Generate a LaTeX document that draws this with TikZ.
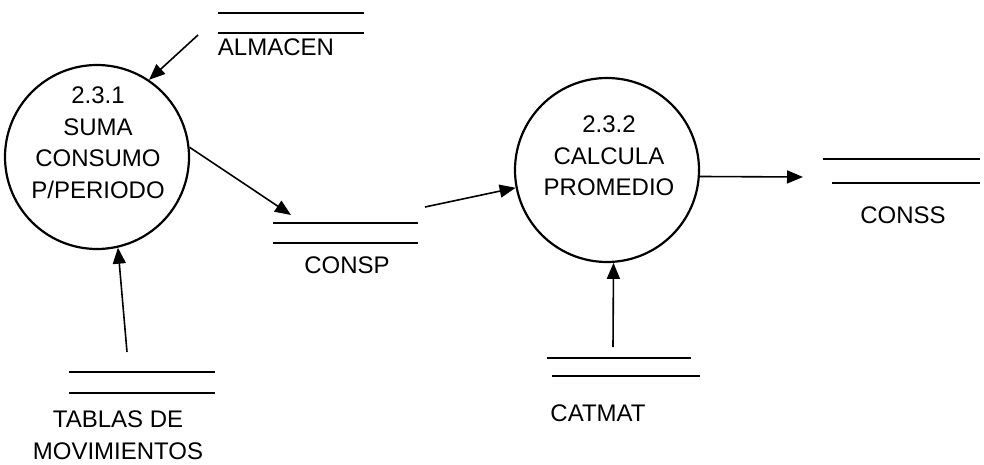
\documentclass[tikz,border=0pt]{standalone}
\usepackage{fontspec}
\setmainfont{Liberation Sans}
\usetikzlibrary{arrows.meta}
\begin{document}
\begin{tikzpicture}[x=1pt,y=-1pt,
  proc/.style={draw,circle,line width=2.2pt,minimum size=184pt,inner sep=0pt},
  lbl/.style={inner sep=0pt,font=\fontsize{24}{31.5}\selectfont,align=center},
  storeline/.style={line width=2.3pt},
  flow/.style={line width=1.6pt,-{Triangle[length=16pt,width=13pt]}}]
\useasboundingbox (0,0) rectangle (984,465);
% processes
\node[proc] (p1) at (97,157) {};
\node[lbl] (p1t) at (98,142.5) {2.3.1\\SUMA\\CONSUMO\\P/PERIODO};
\node[proc] (p2) at (607,170) {};
\node[lbl] (p2t) at (609,156) {2.3.2\\CALCULA\\PROMEDIO};
% stores
\draw[storeline] (218,13) -- (364,13) (218,33) -- (364,33);
\node[lbl] (almacen) at (276,47) {ALMACEN};
\draw[storeline] (273,223) -- (418,223) (273,243) -- (418,243);
\node[lbl] (consp) at (347,265) {CONSP};
\draw[storeline] (823,159) -- (980,159) (832,183) -- (980,183);
\node[lbl] (conss) at (903,215) {CONSS};
\draw[storeline] (547,358) -- (691,358) (552,376) -- (700,376);
\node[lbl] (catmat) at (598,413) {CATMAT};
\draw[storeline] (69,372) -- (215,372) (69,393) -- (215,393);
\node[lbl] (tablas) at (118,435) {TABLAS DE\\MOVIMIENTOS};
% connector free ends
\coordinate (aAlm) at (198,35);
\coordinate (aConspIn) at (291,215);
\coordinate (aConspOut) at (425,207);
\coordinate (aConss) at (803,177);
\coordinate (aCat) at (613,347);
\coordinate (aTab) at (127,352);
% flows
\draw[flow] (aAlm) -- (p1.56);
\draw[flow] (p1.6) -- (aConspIn);
\draw[flow] (aConspOut) -- (p2.191);
\draw[flow] (p2.-4) -- (aConss);
\draw[flow] (aCat) -- (p2.-86);
\draw[flow] (aTab) -- (p1.-77);
\end{tikzpicture}
\end{document}
